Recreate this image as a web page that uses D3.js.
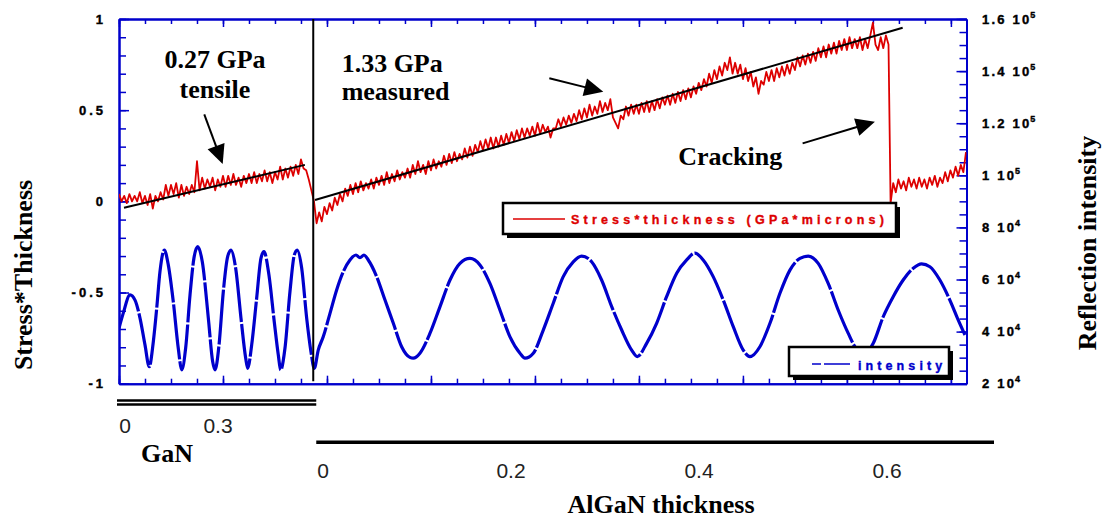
<!DOCTYPE html>
<html><head><meta charset="utf-8">
<script src="https://cdn.jsdelivr.net/npm/d3@7"></script>
<style>body{margin:0;background:#fff}</style>
</head><body><svg id="c" width="1102" height="521"></svg>
<script>
// ---------------- DATA ----------------
const leftTicks = [-1, -0.5, 0, 0.5, 1];
const leftTickLabels = ["-1", "-0.5", "0", "0.5", "1"];
const rightTicks = [20000, 40000, 60000, 80000, 100000, 120000, 140000, 160000];
const rightMantissa = ["2", "4", "6", "8", "1", "1.2", "1.4", "1.6"];
const rightExponent = ["4", "4", "4", "4", "5", "5", "5", "5"];
const ganTicks = [0, 0.3];
const ganTickLabels = ["0", "0.3"];
const alganTicks = [0, 0.2, 0.4, 0.6];
const alganTickLabels = ["0", "0.2", "0.4", "0.6"];

// growth time (min) sampling grid of the stress*thickness trace before cracking
const redTimePre = d3.range(0, 74.01, 0.25);
const redPre = [
 0.04,0.00,0.03,-0.01, 0.04,0.00,0.03,0.00, 0.05,-0.01,0.03,-0.02, 0.04,-0.04,0.03,0.00,
 0.05,0.01,0.09,0.03, 0.09,0.04,0.10,0.02, 0.09,0.03,0.08,0.04, 0.09,0.05,0.22,0.06,
 0.13,0.07,0.12,0.08, 0.13,0.06,0.12,0.08, 0.14,0.08,0.14,0.09, 0.15,0.09,0.13,0.08,
 0.14,0.10,0.15,0.10, 0.16,0.10,0.15,0.11, 0.17,0.11,0.16,0.10, 0.16,0.12,0.19,0.12,
 0.18,0.13,0.19,0.14, 0.20,0.15,0.23,0.18, 0.17,0.12,0.06,0.00, -0.12,-0.06,-0.11,-0.03,
 -0.07,-0.01,-0.05,0.02, -0.02,0.04,0.00,0.07, 0.03,0.09,0.04,0.10, 0.05,0.11,0.06,0.10,
 0.07,0.12,0.07,0.13, 0.09,0.14,0.09,0.16, 0.10,0.15,0.11,0.17, 0.12,0.16,0.13,0.18,
 0.13,0.20,0.15,0.22, 0.16,0.20,0.15,0.22, 0.17,0.23,0.18,0.22, 0.19,0.25,0.20,0.26,
 0.21,0.27,0.22,0.26, 0.23,0.29,0.24,0.30, 0.25,0.31,0.27,0.33, 0.28,0.34,0.29,0.35,
 0.29,0.35,0.30,0.36, 0.31,0.37,0.32,0.38, 0.33,0.39,0.34,0.40, 0.35,0.40,0.36,0.41,
 0.36,0.43,0.37,0.42, 0.38,0.41,0.35,0.40, 0.40,0.45,0.41,0.46, 0.42,0.47,0.43,0.48,
 0.44,0.50,0.45,0.51, 0.46,0.53,0.47,0.52, 0.48,0.55,0.49,0.54, 0.50,0.56,0.46,0.43,
 0.40,0.47,0.45,0.52, 0.47,0.53,0.48,0.53, 0.48,0.54,0.49,0.55, 0.49,0.55,0.50,0.56,
 0.51,0.57,0.53,0.58, 0.53,0.59,0.54,0.60, 0.55,0.61,0.56,0.62, 0.57,0.63,0.59,0.65,
 0.61,0.67,0.63,0.70, 0.65,0.72,0.67,0.74, 0.69,0.76,0.72,0.79, 0.70,0.76,0.70,0.75,
 0.67,0.73,0.66,0.71, 0.63,0.68,0.59,0.66, 0.64,0.71,0.66,0.72, 0.66,0.73,0.68,0.74,
 0.69,0.75,0.70,0.76, 0.72,0.79,0.74,0.80, 0.75,0.81,0.76,0.82, 0.77,0.84,0.79,0.85,
 0.79,0.86,0.81,0.87, 0.81,0.88,0.83,0.89, 0.83,0.90,0.84,0.89, 0.84,0.90,0.83,0.89,
 0.84,0.91,0.98,0.86, 0.83,0.90,0.84,0.91, 0.86
];
// after cracking
const redTimePost = d3.range(74.2, 81.46, 0.25);
const redPost = [
 -0.01,0.10,0.05,0.12,0.07,0.11,0.06,0.13,0.08,0.12,0.07,0.13,0.08,0.12,0.07,
 0.13,0.09,0.14,0.08,0.13,0.10,0.16,0.11,0.17,0.13,0.19,0.14,0.20,0.16,0.27
];

const blueTime = [
 0,0.41,1.06,1.54,2.02,2.5,2.91,3.30,3.63,3.94,4.36,4.74,5.22,5.70,6.03,6.41,6.83,7.21,7.57,8.01,
 8.59,9.01,9.23,9.62,10.03,10.45,10.77,11.22,11.73,12.18,12.38,12.76,13.24,13.65,13.94,14.42,14.93,15.32,15.55,15.96,
 16.44,16.86,17.14,17.57,18.05,18.46,18.78,
 19.16,19.64,20.29,20.93,21.57,22.21,22.79,23.17,23.56,23.97,24.78,25.58,26.38,27.18,27.98,28.30,28.94,29.90,30.87,31.83,
 32.79,33.75,34.71,35.67,36.63,37.60,38.56,39.04,39.84,40.80,41.76,42.72,43.68,44.49,45.45,46.41,47.38,48.34,49.30,49.84,
 50.74,51.70,52.66,53.63,54.59,55.38,56.18,57.14,58.11,59.07,60.03,60.67,61.63,62.60,63.56,64.52,65.48,66.28,67.24,68.20,
 69.16,70.13,70.77,71.73,72.53,73.49,74.45,75.41,76.38,77.18,77.98,78.94,79.90,80.70,81.35
];
const blueIntensity = [
 41300,47100,54100,52100,45200,34900,26500,36100,49100,63000,71300,65600,51500,33600,25300,33700,54100,68300,72600,66800,
 45200,28400,25300,34900,55300,68800,71300,64300,45200,29900,25900,34900,52900,68100,70700,61700,43800,31000,25300,33600,
 55300,69400,71300,64300,45100,32300,25900,
 32900,38000,47000,56000,63000,67500,69400,68400,69400,67500,61100,52100,43200,34200,30100,29800,31700,39300,49600,59800,
 66200,68100,65600,58500,48300,38000,31700,29800,31700,40600,50900,61100,66800,69000,66800,59800,49600,40600,32900,30400,
 35500,43200,53400,62400,67500,70100,67500,61100,52100,41900,32900,30400,34200,43200,54700,63600,68100,69000,66200,58500,
 48300,39300,34200,31400,35500,45700,53400,59800,64300,66000,64900,59800,52100,44500,38700
];

const fitGaNTime = [0.48, 17.88];
const fitGaNValue = [-0.035, 0.20];
const fitAlGaNTime = [18.85, 75.36];
const fitAlGaNValue = [0.007, 0.952];
const interfaceTime = 18.68;

const legendRed = "Stress*thickness (GPa*microns)";
const legendBlue = "intensity";

// ---------------- LAYOUT ----------------
const BLUE = "#0000cc", RED = "#dd0000";
const SANS = "'Liberation Sans', Arial, sans-serif";
const SERIF = "'Liberation Serif', 'Times New Roman', serif";
const M = {left: 119, right: 966.5, top: 19, bottom: 383.7};
const svg = d3.select("#c");

const x = d3.scaleLinear().domain([0, 81.5]).range([M.left, M.right]);
const yL = d3.scaleLinear().domain([-1, 1]).range([M.bottom, M.top]);
const yR = d3.scaleLinear().domain([20000, 160000]).range([M.bottom, M.top]);

function styleAxis(g) {
  g.select(".domain").attr("stroke", BLUE).attr("stroke-width", 2);
  g.selectAll(".tick line").attr("stroke", BLUE).attr("stroke-width", 1.5);
  g.selectAll(".tick text").remove();
}
const minorX = d3.range(0, 81.6, 2.5), majorX = d3.range(0, 81.6, 10);
[[minorX, 5], [majorX, 8]].forEach(([vals, len]) => {
  svg.append("g").attr("transform", `translate(0,${M.top})`)
    .call(d3.axisBottom(x).tickValues(vals).tickSize(len).tickSizeOuter(0).tickFormat("")).call(styleAxis);
  svg.append("g").attr("transform", `translate(0,${M.bottom})`)
    .call(d3.axisTop(x).tickValues(vals).tickSize(len).tickSizeOuter(0).tickFormat("")).call(styleAxis);
});
const minorL = d3.range(-10, 11).map(i => i / 10);
[[minorL, 7], [leftTicks, 10]].forEach(([vals, len]) => {
  svg.append("g").attr("transform", `translate(${M.left},0)`)
    .call(d3.axisRight(yL).tickValues(vals).tickSize(len).tickSizeOuter(0).tickFormat("")).call(styleAxis);
});
const minorR = d3.range(20000, 160001, 5000);
[[minorR, 7], [rightTicks, 10]].forEach(([vals, len]) => {
  svg.append("g").attr("transform", `translate(${M.right},0)`)
    .call(d3.axisLeft(yR).tickValues(vals).tickSize(len).tickSizeOuter(0).tickFormat("")).call(styleAxis);
});

// left tick labels
svg.append("g").selectAll("text").data(leftTicks).join("text")
  .attr("x", 106).attr("y", d => yL(d)).attr("dy", "0.36em")
  .attr("text-anchor", "end").attr("font-family", SANS).attr("font-weight", 700)
  .attr("font-size", 13).attr("letter-spacing", 3).attr("fill", "#000")
  .attr("stroke", "#000").attr("stroke-width", 0.4)
  .text((d, i) => leftTickLabels[i]);

// right tick labels
const rl = svg.append("g").selectAll("text").data(rightTicks).join("text")
  .attr("x", 982).attr("y", d => yR(d)).attr("dy", "0.36em")
  .attr("font-family", SANS).attr("font-weight", 700).attr("font-size", 13)
  .attr("letter-spacing", 2.2).attr("fill", "#000").attr("stroke", "#000").attr("stroke-width", 0.4);
rl.append("tspan").text((d, i) => rightMantissa[i] + " 10");
rl.append("tspan").attr("font-size", 9).attr("dy", -6).attr("dx", -1).text((d, i) => rightExponent[i]);

// clip
svg.append("clipPath").attr("id", "plot").append("rect")
  .attr("x", M.left).attr("y", M.top).attr("width", M.right - M.left).attr("height", M.bottom - M.top);
const plot = svg.append("g").attr("clip-path", "url(#plot)");

// intensity
const blueData = blueTime.map((t, i) => [t, blueIntensity[i]]);
plot.append("path").datum(blueData)
  .attr("d", d3.line().x(d => x(d[0])).y(d => yR(d[1])).curve(d3.curveMonotoneX))
  .attr("fill", "none").attr("stroke", BLUE).attr("stroke-width", 3.2)
  .attr("stroke-dasharray", "55,2");

// stress*thickness
const redData = redTimePre.map((t, i) => [t, redPre[i]])
  .concat(redTimePost.map((t, i) => [t, redPost[i]]));
plot.append("path").datum(redData)
  .attr("d", d3.line().x(d => x(d[0])).y(d => yL(d[1])))
  .attr("fill", "none").attr("stroke", RED).attr("stroke-width", 1.8).attr("stroke-linejoin", "round");

// fits
[[fitGaNTime, fitGaNValue], [fitAlGaNTime, fitAlGaNValue]].forEach(([ts, vs]) => {
  plot.append("line").attr("x1", x(ts[0])).attr("x2", x(ts[1]))
    .attr("y1", yL(vs[0])).attr("y2", yL(vs[1]))
    .attr("stroke", "#000").attr("stroke-width", 2);
});
// interface line
plot.append("line").attr("x1", x(interfaceTime)).attr("x2", x(interfaceTime))
  .attr("y1", yL(1)).attr("y2", yL(-0.986)).attr("stroke", "#000").attr("stroke-width", 2);

// legends
function legendBox(x0, y0, w, h) {
  svg.append("rect").attr("x", x0 + 4).attr("y", y0 + 4).attr("width", w).attr("height", h).attr("fill", "#000");
  svg.append("rect").attr("x", x0).attr("y", y0).attr("width", w).attr("height", h)
    .attr("fill", "#fff").attr("stroke", "#000").attr("stroke-width", 2.5);
}
legendBox(503, 203, 393, 31);
svg.append("line").attr("x1", 513).attr("x2", 565).attr("y1", 219).attr("y2", 219)
  .attr("stroke", RED).attr("stroke-width", 1.5);
svg.append("text").attr("x", 571).attr("y", 224).attr("font-family", SANS).attr("font-weight", 700)
  .attr("font-size", 12.5).attr("letter-spacing", 4.2).attr("fill", RED)
  .attr("stroke", RED).attr("stroke-width", 0.35).text(legendRed);

legendBox(789, 347, 160, 29);
svg.append("line").attr("x1", 812).attr("x2", 850).attr("y1", 364).attr("y2", 364)
  .attr("stroke", BLUE).attr("stroke-width", 1.5).attr("stroke-dasharray", "9,3,27");
svg.append("text").attr("x", 858).attr("y", 370).attr("font-family", SANS).attr("font-weight", 700)
  .attr("font-size", 12.5).attr("letter-spacing", 4.1).attr("fill", BLUE)
  .attr("stroke", BLUE).attr("stroke-width", 0.35).text(legendBlue);

// annotations
function annot(txt, t, v, anchor) {
  svg.append("text").attr("x", x(t)).attr("y", yL(v)).attr("text-anchor", anchor)
    .attr("font-family", SERIF).attr("font-weight", "bold").attr("font-size", 26).attr("fill", "#000").text(txt);
}
annot("0.27 GPa", 9.23, 0.73, "middle");
annot("tensile", 9.23, 0.566, "middle");
annot("1.33 GPa", 21.41, 0.711, "start");
annot("measured", 21.41, 0.556, "start");
annot("Cracking", 53.78, 0.199, "start");

function arrow(t0, v0, t1, v1) {
  const x0 = x(t0), y0 = yL(v0), x1 = x(t1), y1 = yL(v1);
  const dx = x1 - x0, dy = y1 - y0, L = Math.hypot(dx, dy), ux = dx / L, uy = dy / L;
  const hl = 19, hw = 9;
  const bx = x1 - ux * hl, by = y1 - uy * hl;
  svg.append("line").attr("x1", x0).attr("y1", y0).attr("x2", bx + ux * 2).attr("y2", by + uy * 2)
    .attr("stroke", "#000").attr("stroke-width", 2);
  svg.append("polygon").attr("points",
    [[x1, y1], [bx - uy * hw, by + ux * hw], [bx + uy * hw, by - ux * hw]].map(p => p.join(",")).join(" "))
    .attr("fill", "#000");
}
arrow(8.2, 0.477, 9.97, 0.205);
arrow(41.38, 0.675, 46.57, 0.601);
arrow(65.74, 0.318, 72.69, 0.437);

// axis titles
svg.append("text").attr("transform", "translate(32,275) rotate(-90)").attr("text-anchor", "middle")
  .attr("font-family", SERIF).attr("font-weight", "bold").attr("font-size", 26).text("Stress*Thickness");
svg.append("text").attr("transform", "translate(1096,243) rotate(-90)").attr("text-anchor", "middle")
  .attr("font-family", SERIF).attr("font-weight", "bold").attr("font-size", 26).text("Reflection intensity");

// GaN thickness axis
const gan = d3.scaleLinear().domain([0, 0.3]).range([125, 218]);
[400.5, 404.5].forEach(yy => svg.append("line").attr("x1", x(0) - 2).attr("x2", x(interfaceTime) + 3)
  .attr("y1", yy).attr("y2", yy).attr("stroke", "#000").attr("stroke-width", 2.6));
svg.append("g").selectAll("text").data(ganTicks).join("text")
  .attr("x", d => gan(d)).attr("y", 433).attr("text-anchor", "middle")
  .attr("font-family", SANS).attr("font-size", 21).attr("fill", "#222").text((d, i) => ganTickLabels[i]);
svg.append("text").attr("x", 167).attr("y", 462).attr("text-anchor", "middle")
  .attr("font-family", SERIF).attr("font-weight", "bold").attr("font-size", 26).text("GaN");

// AlGaN thickness axis
const algan = d3.scaleLinear().domain([0, 0.6]).range([323, 887]);
svg.append("line").attr("x1", x(interfaceTime) + 3).attr("x2", 994).attr("y1", 442.3).attr("y2", 442.3)
  .attr("stroke", "#000").attr("stroke-width", 3.5);
svg.append("g").selectAll("text").data(alganTicks).join("text")
  .attr("x", d => algan(d)).attr("y", 478).attr("text-anchor", "middle")
  .attr("font-family", SANS).attr("font-size", 21).attr("fill", "#222").text((d, i) => alganTickLabels[i]);
svg.append("text").attr("x", 661).attr("y", 513).attr("text-anchor", "middle")
  .attr("font-family", SERIF).attr("font-weight", "bold").attr("font-size", 26).text("AlGaN thickness");
</script></body></html>
